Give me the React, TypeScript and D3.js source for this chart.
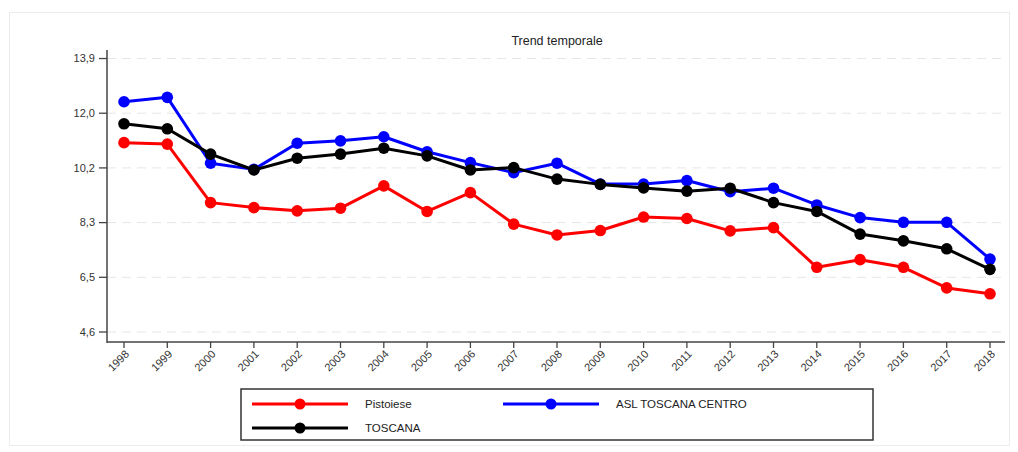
import React from 'react';
import * as d3 from 'd3';

const years = ['1998','1999','2000','2001','2002','2003','2004','2005','2006','2007','2008','2009','2010','2011','2012','2013','2014','2015','2016','2017','2018'];
const pistoiese = [11.04, 10.99, 9.0, 8.83, 8.72, 8.81, 9.57, 8.7, 9.34, 8.27, 7.9, 8.05, 8.51, 8.46, 8.04, 8.15, 6.8, 7.06, 6.8, 6.1, 5.9];
const aslCentro = [12.43, 12.58, 10.34, 10.13, 11.02, 11.1, 11.24, 10.73, 10.36, 10.02, 10.34, 9.63, 9.63, 9.75, 9.37, 9.49, 8.92, 8.49, 8.33, 8.33, 7.08];
const toscana = [11.68, 11.51, 10.65, 10.11, 10.51, 10.65, 10.85, 10.59, 10.11, 10.19, 9.8, 9.62, 9.5, 9.39, 9.49, 9.0, 8.7, 7.93, 7.7, 7.43, 6.73];
const yTickValues = [4.6, 6.46, 8.32, 10.18, 12.04, 13.9];
const yTickLabels = ['4,6', '6,5', '8,3', '10,2', '12,0', '13,9'];
const seriesNames = ['Pistoiese', 'ASL TOSCANA CENTRO', 'TOSCANA'];
const seriesColors = ['#ff0000', '#0000ff', '#000000'];
const title = 'Trend temporale';

const FONT = 'Liberation Sans, Arial, Helvetica, sans-serif';

export default function App() {
  const W = 1018, H = 452;
  const axisLeft = 107, axisRight = 1005, axisTop = 50, axisBottom = 342;
  const x = d3.scalePoint<string>().domain(years).range([124, 990]);
  const y = d3.scaleLinear().domain([4.26, 14.19]).range([axisBottom, axisTop]);
  const data = [pistoiese, aslCentro, toscana];
  const line = d3.line<number>().x((_, i) => x(years[i]) as number).y(d => y(d));

  const legendItems = [
    { name: seriesNames[0], color: seriesColors[0], kx: 252, row: 0 },
    { name: seriesNames[1], color: seriesColors[1], kx: 503, row: 0 },
    { name: seriesNames[2], color: seriesColors[2], kx: 252, row: 1 },
  ];

  return (
    <svg width={W} height={H} style={{ position: 'absolute', left: 0, top: 0, background: '#fff' }} fontFamily={FONT}>
      <rect x={9.5} y={12.5} width={1000} height={433} fill="#fff" stroke="#ececec" strokeWidth={1} />
      <text x={557} y={45} textAnchor="middle" fontSize={12.5} fill="#222">{title}</text>
      {/* grid */}
      {yTickValues.map((v, i) => (
        <line key={'g' + i} x1={axisLeft} x2={axisRight} y1={y(v)} y2={y(v)} stroke="#e6e6e6" strokeWidth={1} strokeDasharray="9,6" />
      ))}
      {/* y axis */}
      <line x1={axisLeft} x2={axisLeft} y1={axisTop} y2={axisBottom + 1} stroke="#444" strokeWidth={1.5} />
      {yTickValues.map((v, i) => (
        <g key={'yt' + i}>
          <line x1={axisLeft - 8} x2={axisLeft} y1={y(v)} y2={y(v)} stroke="#444" strokeWidth={1.3} />
          <text x={axisLeft - 12} y={y(v)} dy="0.35em" textAnchor="end" fontSize={11} fill="#333">{yTickLabels[i]}</text>
        </g>
      ))}
      {/* x axis */}
      <line x1={axisLeft} x2={axisRight} y1={axisBottom} y2={axisBottom} stroke="#444" strokeWidth={1.5} />
      {years.map(yr => (
        <g key={'xt' + yr}>
          <line x1={x(yr)} x2={x(yr)} y1={axisBottom} y2={axisBottom + 6} stroke="#444" strokeWidth={1.3} />
          <text transform={`translate(${(x(yr) as number) + 3},${axisBottom + 10}) rotate(-45)`} dy="0.35em" textAnchor="end" fontSize={11} fill="#333">{yr}</text>
        </g>
      ))}
      {/* series */}
      {data.map((vals, si) => (
        <g key={'s' + si}>
          <path d={line(vals) || ''} fill="none" stroke={seriesColors[si]} strokeWidth={3} strokeLinejoin="round" />
          {vals.map((v, i) => (
            <circle key={i} cx={x(years[i])} cy={y(v)} r={5.8} fill={seriesColors[si]} />
          ))}
        </g>
      ))}
      {/* legend */}
      <rect x={241} y={389} width={632} height={51} fill="#fff" stroke="#333" strokeWidth={1.5} />
      {legendItems.map((it, i) => {
        const ly = it.row === 0 ? 404 : 428;
        return (
          <g key={'l' + i}>
            <line x1={it.kx} x2={it.kx + 96} y1={ly} y2={ly} stroke={it.color} strokeWidth={3} />
            <circle cx={it.kx + 48} cy={ly} r={5.5} fill={it.color} />
            <text x={it.kx + 113} y={ly} dy="0.35em" fontSize={11.5} fill="#222">{it.name}</text>
          </g>
        );
      })}
    </svg>
  );
}
